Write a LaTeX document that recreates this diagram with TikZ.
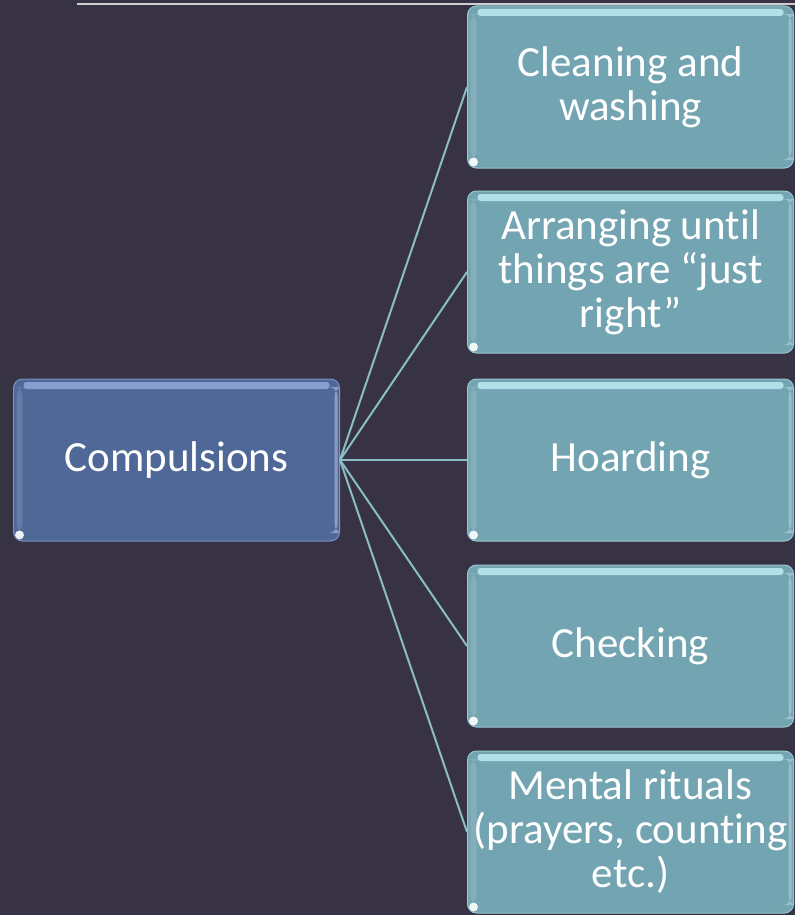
\documentclass[tikz,border=0pt]{standalone}
\usepackage{fontspec}
\setmainfont[Ligatures=NoCommon]{Carlito}
\definecolor{bgdark}{RGB}{55,51,68}
\definecolor{hubfill}{RGB}{80,104,152}
\definecolor{hubshine}{RGB}{150,172,220}
\definecolor{leaffill}{RGB}{115,164,177}
\definecolor{leafshine}{RGB}{190,235,242}
\definecolor{linkcol}{RGB}{138,190,196}
\definecolor{rulecol}{RGB}{205,205,212}
\tikzset{
  tile/.style={rounded corners=9pt, minimum width=326pt, minimum height=162pt,
    inner sep=0pt, align=center, text=white,
    font=\fontsize{43}{44}\selectfont},
  hubtile/.style={tile, fill=hubfill, draw=hubshine!60!hubfill, line width=1pt,
    path picture={
      \fill[hubshine, opacity=.8, rounded corners=3pt]
        ([xshift=10pt,yshift=-3pt]path picture bounding box.north west) rectangle
        ([xshift=-10pt,yshift=-10pt]path picture bounding box.north east);
      \fill[white, opacity=.35]
        ([xshift=-5pt,yshift=-8pt]path picture bounding box.north east) rectangle
        ([xshift=-2pt,yshift=8pt]path picture bounding box.south east);
      \fill[white, opacity=.12]
        ([xshift=3pt,yshift=-8pt]path picture bounding box.north west) rectangle
        ([xshift=9pt,yshift=8pt]path picture bounding box.south west);
      \fill[white, opacity=.9]
        ([xshift=6pt,yshift=6pt]path picture bounding box.south west) circle (4.5pt);
    }},
  leaftile/.style={tile, fill=leaffill, draw=leafshine!50!leaffill, line width=1pt,
    path picture={
      \fill[leafshine, opacity=.85, rounded corners=3pt]
        ([xshift=10pt,yshift=-3pt]path picture bounding box.north west) rectangle
        ([xshift=-10pt,yshift=-10pt]path picture bounding box.north east);
      \fill[white, opacity=.3]
        ([xshift=-5pt,yshift=-8pt]path picture bounding box.north east) rectangle
        ([xshift=-2pt,yshift=8pt]path picture bounding box.south east);
      \fill[white, opacity=.12]
        ([xshift=3pt,yshift=-8pt]path picture bounding box.north west) rectangle
        ([xshift=9pt,yshift=8pt]path picture bounding box.south west);
      \fill[white, opacity=.9]
        ([xshift=6pt,yshift=6pt]path picture bounding box.south west) circle (4.5pt);
    }},
  link/.style={draw=linkcol, line width=2pt}
}
\begin{document}
\begin{tikzpicture}[x=1pt, y=-1pt]
  \useasboundingbox (0,0) rectangle (795,915);
  \fill[bgdark] (0,0) rectangle (795,915);

  % rule across the top
  \coordinate (ruleL) at (77,4);
  \coordinate (ruleR) at (795,4);
  \draw[rulecol, line width=1.5pt] (ruleL) -- (ruleR);

  % central item
  \node[hubtile] (hub) at (176.5,460) {Compulsions};

  % branches
  \node[leaftile] (c1) at (630.5,87)  {Cleaning and\\washing};
  \node[leaftile] (c2) at (630.5,272) {Arranging until\\things are “just\\right”};
  \node[leaftile] (c3) at (630.5,460) {Hoarding};
  \node[leaftile] (c4) at (630.5,646) {Checking};
  \node[leaftile] (c5) at (630.5,832) {Mental rituals\\(prayers, counting\\etc.)};

  % connectors
  \foreach \n in {c1,c2,c3,c4,c5}
    \draw[link] (hub.east) -- (\n.west);
\end{tikzpicture}
\end{document}
